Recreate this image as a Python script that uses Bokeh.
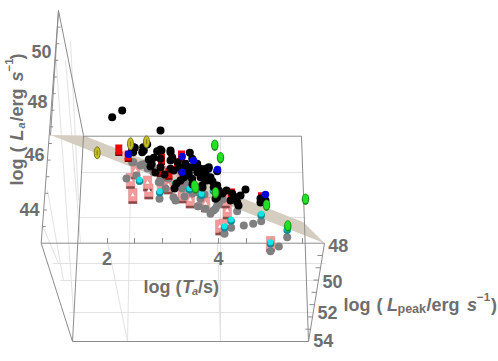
from bokeh.plotting import figure
from bokeh.embed import file_html
from bokeh.resources import INLINE
from bokeh.core.properties import value
from bokeh.models import Range1d
import math

W, H = 498, 361

# ---- values (image pixel positions of the projected 3D points)
black_x = [111.7,121.7,160,134.3,132.7,142.7,141.7,156.7,161,170,171.7,189.3,148.3,153.3,151,160,160,170,177.3,178.3,173.3,183.3,185,188.3,191.7,196.7,198.3,205,208,205,210,216.7,203.3,200,170,190,195,181.7,186.7,206.7,245,240,236.7,235,216.7,213.3,218.3,216.7,215,200,208.3,205,196.7,191.7,188.3,170,160,143.3,146.7,131.7,133.3,260,260,265,180,164,155,150,192,202,212,222,226,174,183,176,230,238,201.7,231.7]
black_y = [116.7,110,130,147.3,151.7,146.7,151.7,150.7,150,151.7,156.7,152.3,159,157.3,163.3,158.3,166.7,160,161.7,166.7,170,166.7,163.3,171.7,158.3,163.3,171.7,168.3,168.3,173.3,176.7,170.7,178.3,176.7,168.3,166.7,166.7,171.7,175,180,189,195,201.7,196.7,185,186.7,190,196.7,198.3,168.3,166.7,175,171.7,178.3,175,150,149,150,144,149.3,146.7,198,202,200,180,174,172,166,184,187,181,193,190,188,177,183,200,205,185,193]
gray_x = [133,141.7,153,159,175,181.7,197.3,210,216.7,236.7,243.3,230.7,224,213,186.7,173,160,252.7,260.7,286.7,270,278.3,168,147,126,136,184,204,222,165,192,131.7,140,145,151.7,158.3,160,198.3,215,218.3,196.7,200,205]
gray_y = [161.7,164,171.7,198.3,200,188,205.7,213.3,205,210.7,225,227.3,233.3,210,183.3,196.7,181.7,223.3,220.7,236.7,250.7,246,178,168,178,175,196,194,199,188,193,161.7,165,163.3,165,181.7,178.3,205.7,208.3,203.3,191.7,198.3,208.3]
pink_x = [135,130,132.3,147,148.3,161.7,168,181.7,189.7,205,226.7,225,219.3,223,270,181,161]
pink_y = [171,180.5,195.5,183,191,173,186,195,200,204,211,200,227,226,243.5,178,185]
red_x = [118.3,127.7,161,168.3,181,177,231,261,160]
red_y = [149,155,158,172.7,155,163,193,196.7,170]
blue_x = [128,181.7,181.7,193,217,265]
blue_y = [152.7,155,170.7,159,168,193]
cyan_x = [139,159.3,189,201,230.7,224,260.7,286.7,270,175,213]
cyan_y = [179.3,190.7,187.7,193.3,219,225.7,213.3,228.3,241.7,182,189]
yellow_x = [96.7,130,146]
yellow_y = [152.3,143.3,141.3]
green_x = [214.3,220,305,266,287.3,194,215,195]
green_y = [144.3,156.7,198.3,204.3,225,185,191.7,187]

z_ticks = ["44", "46", "48", "50"]
z_tick_x = [29, 34, 37, 41]
z_tick_y = [209, 154, 101, 51]
x_ticks = ["2", "4"]
x_tick_x = [106.5, 218]
x_tick_y = [257.5, 257.5]
y_ticks = ["48", "50", "52", "54"]
y_tick_x = [337.7, 332, 327, 322.7]
y_tick_y = [245, 281, 312, 340]

# frame and grid polylines
frame_x = [[58,40.7],[58,83],[83,72],[40.7,324],[40.7,72],[72,308],[324,308],[83,301],[301,308],[58,50]]
frame_y = [[10,242.7],[10,135],[135,341],[242.7,242.7],[242.7,341],[341,341],[242.7,341],[135.7,135.7],[135.7,341],[10,135]]
grid_x = [[81,303],[79,305],[52,325],[60,318],[69,313],[107,127],[217,220],[131,127],[220,220],[55,73],[65,80],[47,63],[70,78],[42,58]]
grid_y = [[172,172],[217,217],[263,263],[280,280],[312,312],[242,341],[242,341],[135,341],[135,341],[50,312],[60,242],[190,280],[40,200],[225,263]]
bottom_tick_x = [107,134,162,190,218,246,274,302]
plane_x = [50,83,303,324]
plane_y = [134.5,135,221.7,242.7]

FONT = "Liberation Sans"
GREY = "#6e6e6e"

p = figure(width=W, height=H, x_range=Range1d(0, W), y_range=Range1d(H, 0),
           output_backend="svg", toolbar_location=None, min_border=0,
           outline_line_color=None,
           background_fill_color="white", border_fill_color="white")
p.xaxis.visible = False
p.yaxis.visible = False
p.grid.visible = False

p.multi_line(grid_x, grid_y, line_color="#e2e2e2", line_width=1)
p.patch(plane_x, plane_y, fill_color="#d4cdc0", line_color=None)
p.multi_line(frame_x, frame_y, line_color="#8c8c8c", line_width=1)
p.segment(bottom_tick_x, [242.7]*8, bottom_tick_x, [237.5]*8, line_color="#8c8c8c")

# left-axis and right-axis minor ticks, placed by interpolation along the edges
zt = [i/14 for i in range(1, 14)]
p.segment([40.7+17.3*t for t in zt], [242.7-232.7*t for t in zt],
          [44+17.3*t for t in zt], [242.7-232.7*t for t in zt], line_color="#8c8c8c")
yt = [i/8 for i in range(1, 8)]
p.segment([324-16*t for t in yt], [242.7+98.3*t for t in yt],
          [319-16*t for t in yt], [242.7+98.3*t for t in yt], line_color="#8c8c8c")

# pink boxes with dark bottom
p.rect(pink_x, pink_y, width=8.5, height=15, fill_color="#f59a9a", line_color="#d08888", line_width=0.5)
p.rect(pink_x, [y+6.5 for y in pink_y], width=8.5, height=2.5, fill_color="#8a4a4a", line_color=None)
p.scatter(pink_x, [y-1 for y in pink_y], size=4, marker="triangle", fill_color="white", line_color=None)

# gray projected dots
p.scatter(gray_x, gray_y, size=8, marker="circle", fill_color="#808080", line_color=None)

# cyan spheres
p.scatter(cyan_x, [y+1.5 for y in cyan_y], size=7.5, marker="circle", fill_color="#118a96", line_color=None)
p.scatter(cyan_x, cyan_y, size=6, marker="circle", fill_color="#10e6e6", line_color=None)

# red boxes
p.rect(red_x, [y+4.5 for y in red_y], width=7, height=4, fill_color="#7a0000", line_color=None)
p.rect(red_x, red_y, width=7, height=10, fill_color="#f20000", line_color=None)

# black points
p.scatter(black_x, black_y, size=8, marker="circle", fill_color="black", line_color=None)

# blue spheres
p.scatter(blue_x, [y+1 for y in blue_y], size=7.5, marker="circle", fill_color="#0000d8", line_color=None)

# yellow and green capsules
p.ellipse(yellow_x, yellow_y, width=6, height=12, fill_color="#c8c020", line_color="#77741c", line_width=1)
p.ellipse(yellow_x, yellow_y, width=1.5, height=6, fill_color="#8a861c", line_color=None)
p.ellipse(green_x, [y+0.5 for y in green_y], width=7.5, height=11.5, fill_color="#1a8a1a", line_color=None)
p.ellipse(green_x, green_y, width=5.5, height=9, fill_color="#22e022", line_color=None)


def labels(xs, ys, txt):
    p.text(xs, ys, text=txt, text_font=value(FONT), text_font_size="18px",
           text_font_style="bold", text_color=GREY, text_align="center", text_baseline="middle")


labels(z_tick_x, z_tick_y, z_ticks)
labels(x_tick_x, x_tick_y, x_ticks)
labels(y_tick_x, y_tick_y, y_ticks)


def piece(x, y, s, size=18, style="bold", angle=0.0):
    p.text([x], [y], text=[s], text_font=value(FONT), text_font_size=f"{size}px",
           text_font_style=style, text_color=GREY, text_align="left",
           text_baseline="alphabetic", angle=angle)


# log (T_a/s)
piece(143, 286, "log")
piece(175, 286, "(")
piece(181.5, 286, "T", style="bold italic")
piece(191.5, 290, "a", size=11, style="bold italic")
piece(197.5, 286, "/s)")

# log ( L_peak/erg s^-1)
piece(343, 304, "log")
piece(376, 304, "(")
piece(386.5, 304, "L", style="bold italic")
piece(397, 308, "peak", size=12.5)
piece(426, 304, "/erg")
piece(466.5, 304, "s", style="bold italic")
piece(476.5, 296, "\u22121", size=11.5)
piece(490.5, 304, ")")

# log ( L_a/erg s^-1), rotated
R = math.pi/2
piece(16, 185, "log", angle=R)
piece(16, 152, "(", angle=R)
piece(16, 140, "L", style="bold italic", angle=R)
piece(20, 128, "a", size=11, style="bold italic", angle=R)
piece(16, 121, "/erg", angle=R)
piece(16, 81, "s", style="bold italic", angle=R)
piece(8.5, 71, "\u22121", size=11.5, angle=R)
piece(16, 59, ")", angle=R)

open("out.html", "w").write(file_html(p, INLINE))
